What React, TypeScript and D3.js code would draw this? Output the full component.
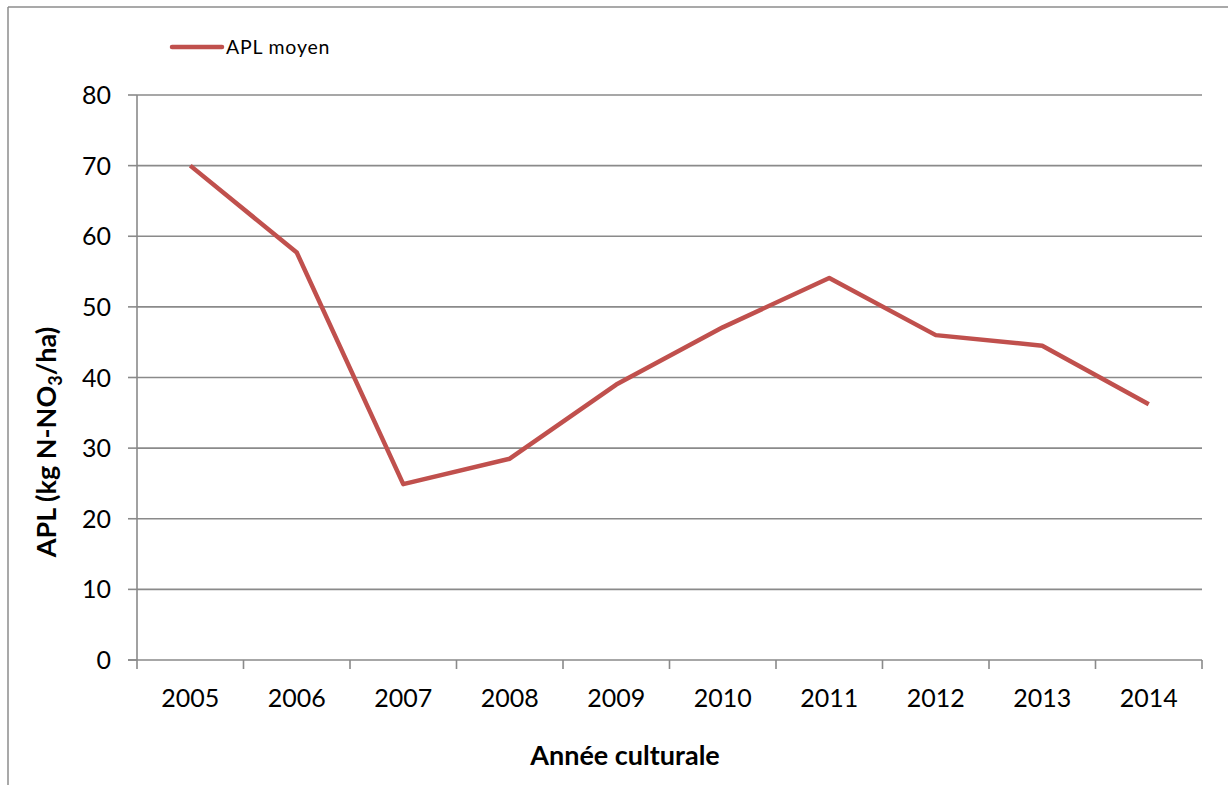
import React from "react";
import * as d3 from "d3";

const years = ["2005", "2006", "2007", "2008", "2009", "2010", "2011", "2012", "2013", "2014"];
const aplMoyen = [70, 57.7, 24.9, 28.5, 39.0, 47.1, 54.1, 46.0, 44.5, 36.2];
const yTicks = [0, 10, 20, 30, 40, 50, 60, 70, 80];
const seriesName = "APL moyen";

const W = 1228, H = 785;
const left = 137, right = 1202, top = 95, bottom = 660;
const font = "Lato, 'Open Sans', sans-serif";

export default function App() {
  const x = d3.scaleBand<string>().domain(years).range([left, right]).padding(0);
  const y = d3.scaleLinear().domain([0, 80]).range([bottom, top]);
  const line = d3.line<number>()
    .x((_, i) => (x(years[i]) as number) + x.bandwidth() / 2)
    .y((d) => y(d));
  const boundaries = years.map((yr) => x(yr) as number).concat([right]);
  return (
    <svg width={W} height={H} style={{ position: "absolute", left: 0, top: 0, background: "#fff" }}>
      <rect x={0} y={0} width={W} height={H} fill="#fff" />
      <line x1={8} y1={7} x2={W} y2={7} stroke="#8c8c8c" strokeWidth={1.5} />
      <line x1={8} y1={7} x2={8} y2={H} stroke="#8c8c8c" strokeWidth={1.5} />
      {yTicks.filter((t) => t > 0).map((t) => (
        <line key={"g" + t} x1={left} x2={right} y1={y(t)} y2={y(t)} stroke="#8a8a8a" strokeWidth={1.6} />
      ))}
      {yTicks.map((t) => (
        <g key={"t" + t}>
          <line x1={left - 9} x2={left} y1={y(t)} y2={y(t)} stroke="#8a8a8a" strokeWidth={1.6} />
          <text x={111} y={y(t)} dy="0.36em" textAnchor="end" fontFamily={font} fontSize={25} fill="#000">{t}</text>
        </g>
      ))}
      <line x1={left} x2={left} y1={top} y2={bottom} stroke="#8a8a8a" strokeWidth={1.6} />
      <line x1={left - 9} x2={right} y1={bottom} y2={bottom} stroke="#8a8a8a" strokeWidth={1.6} />
      {boundaries.map((b, i) => (
        <line key={"xt" + i} x1={b} x2={b} y1={bottom} y2={bottom + 9} stroke="#8a8a8a" strokeWidth={1.6} />
      ))}
      {years.map((yr) => (
        <text key={yr} x={(x(yr) as number) + x.bandwidth() / 2} y={707} textAnchor="middle" fontFamily={font} fontSize={25} fill="#000">{yr}</text>
      ))}
      <path d={line(aplMoyen) || ""} fill="none" stroke="#C0504D" strokeWidth={4.5} strokeLinejoin="round" />
      <line x1={172} x2={222} y1={47} y2={47} stroke="#C0504D" strokeWidth={4.5} strokeLinecap="round" />
      <text x={226} y={47} dy="0.36em" fontFamily={font} fontSize={19.5} letterSpacing={0.8} fill="#000">{seriesName}</text>
      <text x={625} y={765} textAnchor="middle" fontFamily={font} fontSize={27} fontWeight="bold" fill="#000">Année culturale</text>
      <text transform={`translate(56,442) rotate(-90)`} textAnchor="middle" fontFamily={font} fontSize={27} fontWeight="bold" fill="#000">
        APL (kg N-NO<tspan fontSize={18} dy={6}>3</tspan><tspan dy={-6}>/ha)</tspan>
      </text>
    </svg>
  );
}
